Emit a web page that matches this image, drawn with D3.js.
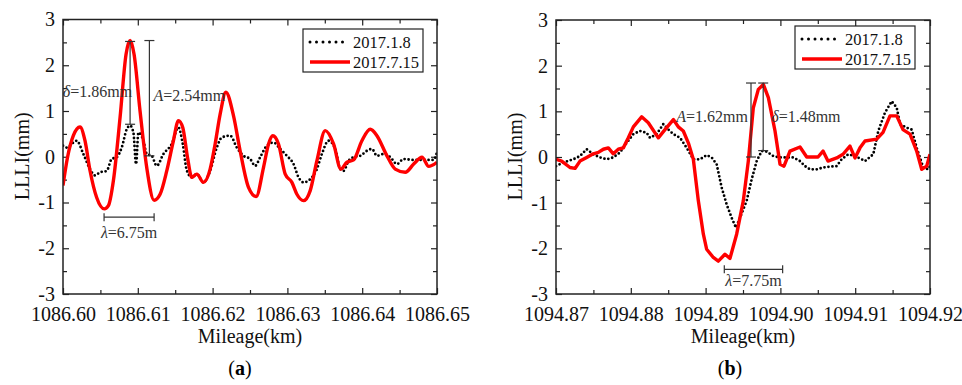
<!DOCTYPE html>
<html>
<head>
<meta charset="utf-8">
<script src="https://cdn.jsdelivr.net/npm/d3@7"></script>
<style>
  body { margin: 0; background: #fff; }
  text { font-family: "Liberation Serif", "Times New Roman", serif; }
</style>
</head>
<body>
<div id="chart"></div>
<script>
// window start (km); positions below are metres from that start
const startA = 1086.60, startB = 1094.87;
const xTicksA = ["1086.60", "1086.61", "1086.62", "1086.63", "1086.64", "1086.65"];
const xTicksB = ["1094.87", "1094.88", "1094.89", "1094.90", "1094.91", "1094.92"];
const yTicks = [-3, -2, -1, 0, 1, 2, 3];
const seriesNames = ["2017.1.8", "2017.7.15"];

// panel (a) 2017.1.8
const janA_m = [0, 0.49, 1.83, 2.72, 3.61, 4.28, 4.95, 5.84, 6.51, 7.18, 7.85, 8.52, 8.97, 9.41, 9.77, 10.08, 10.75, 11.2, 11.86, 12.53, 13.43, 14.54, 15.43, 16.01, 16.55, 17.22, 17.89, 18.78, 19.67, 20.56, 21.23, 22.35, 23.24, 24.13, 25.02, 25.69, 26.36, 27.25, 28.14, 29.04, 29.93, 30.82, 31.49, 32.16, 33.05, 33.94, 34.61, 35.5, 36.4, 37.06, 37.51, 38.18, 38.85, 39.74, 40.63, 41.3, 41.97, 42.86, 43.76, 44.65, 45.54, 46.88, 48.22, 49.55, 50];
const janA_v = [0.24, 0.2, 0.35, 0.06, -0.27, -0.41, -0.34, -0.31, -0.05, -0.01, 0.2, 0.6, 0.68, 0.53, -0.16, 0.53, 0.35, 0.06, 0.02, -0.2, 0.06, 0.28, 0.64, 0.28, -0.3, -0.45, -0.38, -0.56, -0.31, 0.2, 0.42, 0.46, 0.2, 0.02, -0.05, -0.2, -0.01, 0.24, 0.31, 0.17, 0.02, -0.16, -0.45, -0.56, -0.49, -0.27, 0.06, 0.35, 0.17, -0.27, -0.31, -0.09, -0.01, 0.02, 0.13, 0.17, 0.02, 0.06, -0.01, -0.16, -0.05, -0.07, -0.07, -0.07, 0.1];
// panel (a) 2017.7.15
const julA_m = [0, 0.62, 1.38, 2.27, 2.94, 3.61, 4.5, 5.53, 6.07, 6.74, 7.63, 8.43, 8.97, 9.5, 10.3, 11.19, 12.18, 12.98, 13.87, 14.76, 15.43, 16.01, 16.64, 17.22, 17.89, 18.78, 19.67, 20.34, 21.01, 21.77, 22.79, 23.68, 24.8, 25.82, 26.81, 27.48, 28.05, 28.81, 29.71, 30.6, 31.27, 32.16, 33.05, 33.94, 35.06, 36.17, 37.15, 37.96, 38.85, 39.96, 41.08, 41.97, 43.31, 44.42, 45.76, 46.88, 47.99, 48.89, 50];
const julA_v = [-0.63, 0, 0.46, 0.65, 0.35, -0.3, -0.89, -1.14, -1.07, -0.52, 0.86, 2.24, 2.54, 2.24, 1.0, -0.23, -0.95, -0.82, -0.31, 0.35, 0.79, 0.64, -0.01, -0.45, -0.38, -0.56, -0.27, 0.28, 0.93, 1.41, 0.9, 0.13, -0.67, -0.87, -0.23, 0.28, 0.46, 0.28, -0.38, -0.56, -0.82, -0.96, -0.74, -0.09, 0.57, 0.28, -0.27, -0.12, -0.07, 0.35, 0.6, 0.46, 0.02, -0.27, -0.34, -0.16, -0.01, -0.21, -0.12];

// panel (b) 2017.1.8
const janB_m = [0, 0.98, 2.32, 3.21, 4.1, 4.99, 5.88, 6.77, 7.66, 8.56, 9.45, 10.34, 11.23, 12.12, 12.57, 13.46, 14.35, 15.02, 15.69, 16.58, 17.47, 18.36, 19.25, 20.14, 20.81, 21.48, 22.15, 22.82, 23.48, 24.06, 24.6, 25.49, 26.16, 26.83, 27.5, 28.16, 29.06, 29.95, 30.84, 31.73, 32.62, 33.29, 33.96, 34.85, 35.74, 36.63, 37.52, 38.19, 39.08, 39.97, 40.86, 41.31, 42.42, 43.09, 43.98, 44.88, 45.55, 45.99, 46.89, 47.55, 48.22, 49.1, 49.77, 50];
const janB_v = [-0.2, -0.12, -0.05, 0.02, 0.17, 0.06, -0.01, -0.05, -0.01, 0.1, 0.31, 0.5, 0.57, 0.53, 0.42, 0.5, 0.72, 0.6, 0.5, 0.42, 0.2, -0.05, -0.05, 0.04, -0.01, -0.16, -0.67, -1.04, -1.33, -1.55, -1.33, -0.96, -0.49, -0.09, 0.13, 0.12, 0.02, -0.01, -0.01, -0.01, -0.09, -0.2, -0.27, -0.27, -0.23, -0.21, -0.2, -0.05, 0.06, 0.02, -0.05, -0.09, 0.06, 0.57, 0.97, 1.22, 1.08, 0.72, 0.64, 0.6, 0.2, -0.23, -0.27, -0.2];
// panel (b) 2017.7.15
const julB_m = [0, 0.76, 1.87, 2.54, 3.21, 4.1, 4.99, 5.66, 6.33, 7.0, 7.66, 8.33, 9.0, 9.67, 10.34, 11.45, 12.34, 13.68, 14.57, 15.69, 16.35, 17.02, 17.69, 18.36, 19.03, 19.7, 20.14, 21.03, 21.7, 22.59, 23.26, 24.15, 25.04, 25.71, 26.38, 27.05, 27.72, 28.39, 29.28, 29.95, 30.48, 31.28, 32.62, 33.52, 35.03, 35.7, 36.36, 37.53, 38.37, 39.3, 39.97, 40.64, 41.31, 42.87, 43.72, 44.65, 45.55, 46.39, 47.33, 48.22, 48.89, 49.56, 50];
const julB_v = [-0.05, -0.09, -0.23, -0.25, -0.09, -0.01, 0.07, 0.1, 0.17, 0.2, 0.07, 0.17, 0.2, 0.42, 0.66, 0.88, 0.75, 0.42, 0.6, 0.82, 0.66, 0.57, 0.31, -0.05, -0.96, -1.69, -2.02, -2.2, -2.28, -2.13, -2.22, -1.69, -0.96, -0.09, 1.08, 1.48, 1.59, 1.3, 0.57, -0.16, -0.2, 0.13, 0.22, 0, 0, 0.13, -0.09, -0.02, 0.06, 0.24, -0.02, 0.2, 0.35, 0.39, 0.54, 0.9, 0.9, 0.6, 0.5, 0.13, -0.27, -0.2, 0.06];

// annotations: [metres, top mm, bottom mm] and wavelength span [from m, to m, mm]
const annA = { delta: [8.97, 2.52, 0.71], amp: [11.55, 2.54, 0.02], lambda: [5.49, 12.18, -1.32],
               deltaText: "1.86mm", ampText: "2.54mm", lambdaText: "6.75m" };
const annB = { delta: [27.7, 1.62, 0.14], amp: [26.07, 1.62, 0.0], lambda: [22.5, 30.3, -2.46],
               deltaText: "1.48mm", ampText: "1.62mm", lambdaText: "7.75m" };

const svg = d3.select("#chart").append("svg").attr("width", 962).attr("height", 385);

function zip(ms, vs) { return ms.map((m, i) => ({ m: m, v: vs[i] })); }

function drawPanel(opt) {
  const w = opt.right - opt.left, h = opt.bottom - opt.top;
  const g = svg.append("g").attr("transform", `translate(${opt.left},${opt.top})`);

  let x = d3.scaleLinear().domain([opt.start, opt.start + 0.05]).range([0, w]);
  let y = d3.scaleLinear().domain([-3, 3]).range([h, 0]);
  const xm = m => x(opt.start + m / 1000);

  const xMajor = opt.xTicks.map(Number);
  const xMinor = xMajor.slice(0, -1).map(d => d + 0.005);
  const yMinor = yTicks.slice(0, -1).map(d => d + 0.5);

  g.append("clipPath").attr("id", "clip" + opt.id)
    .append("rect").attr("width", w).attr("height", h);

  // minor ticks
  g.append("g").attr("transform", `translate(0,${h})`)
    .call(d3.axisBottom(x).tickValues(xMinor).tickSizeInner(-4).tickSizeOuter(0).tickFormat(""));
  g.append("g")
    .call(d3.axisTop(x).tickValues(xMinor).tickSizeInner(-4).tickSizeOuter(0).tickFormat(""));
  g.append("g")
    .call(d3.axisLeft(y).tickValues(yMinor).tickSizeInner(-4).tickSizeOuter(0).tickFormat(""));
  g.append("g").attr("transform", `translate(${w},0)`)
    .call(d3.axisRight(y).tickValues(yMinor).tickSizeInner(-4).tickSizeOuter(0).tickFormat(""));

  // major ticks
  g.append("g").attr("transform", `translate(0,${h})`)
    .call(d3.axisBottom(x).tickValues(xMajor).tickSizeInner(-6).tickSizeOuter(0).tickPadding(13)
      .tickFormat((d, i) => opt.xTicks[i]));
  g.append("g")
    .call(d3.axisTop(x).tickValues(xMajor).tickSizeInner(-6).tickSizeOuter(0).tickFormat(""));
  g.append("g")
    .call(d3.axisLeft(y).tickValues(yTicks).tickSizeInner(-6).tickSizeOuter(0).tickPadding(8)
      .tickFormat(d => String(d)));
  g.append("g").attr("transform", `translate(${w},0)`)
    .call(d3.axisRight(y).tickValues(yTicks).tickSizeInner(-6).tickSizeOuter(0).tickFormat(""));

  g.selectAll(".domain").remove();
  g.selectAll(".tick line").attr("stroke", "#222").attr("stroke-width", 1.2);
  g.selectAll(".tick text").style("font-size", "20px").attr("fill", "#111")
    .style("font-family", '"Liberation Serif","Times New Roman",serif');

  let line = d3.line().x(d => xm(d.m)).y(d => y(d.v)).curve(opt.curve);

  const plot = g.append("g").attr("clip-path", `url(#clip${opt.id})`);
  plot.append("path").datum(zip(opt.janM, opt.janV))
    .attr("d", line).attr("fill", "none").attr("stroke", "#000")
    .attr("stroke-width", 2.8).attr("stroke-linecap", "round").attr("stroke-dasharray", "0,4");
  plot.append("path").datum(zip(opt.julM, opt.julV))
    .attr("d", line).attr("fill", "none").attr("stroke", "#ff0000")
    .attr("stroke-width", 3.4).attr("stroke-linejoin", "round");

  // annotations
  const ann = opt.ann, annColor = "#333";
  const ag = g.append("g").attr("stroke", annColor).attr("stroke-width", 1.2);
  [ann.delta, ann.amp].forEach(a => {
    ag.append("line").attr("x1", xm(a[0])).attr("x2", xm(a[0])).attr("y1", y(a[1])).attr("y2", y(a[2]));
    ag.append("line").attr("x1", xm(a[0]) - 5).attr("x2", xm(a[0]) + 5).attr("y1", y(a[1])).attr("y2", y(a[1]));
    ag.append("line").attr("x1", xm(a[0]) - 5).attr("x2", xm(a[0]) + 5).attr("y1", y(a[2])).attr("y2", y(a[2]));
  });
  const l = ann.lambda;
  ag.append("line").attr("x1", xm(l[0])).attr("x2", xm(l[1])).attr("y1", y(l[2])).attr("y2", y(l[2]));
  ag.append("line").attr("x1", xm(l[0])).attr("x2", xm(l[0])).attr("y1", y(l[2]) - 4).attr("y2", y(l[2]) + 4);
  ag.append("line").attr("x1", xm(l[1])).attr("x2", xm(l[1])).attr("y1", y(l[2]) - 4).attr("y2", y(l[2]) + 4);

  function label(sym, val, px, py, anchor) {
    const t = g.append("text").attr("x", px).attr("y", py).attr("text-anchor", anchor)
      .style("font-size", "16px").attr("fill", annColor);
    t.append("tspan").style("font-style", "italic").text(sym);
    t.append("tspan").text("=" + val);
  }
  opt.labels(label, xm, y, ann);

  // frame
  g.append("rect").attr("width", w).attr("height", h)
    .attr("fill", "none").attr("stroke", "#222").attr("stroke-width", 1.5);

  // legend
  const lg = g.append("g").attr("transform", `translate(${w - opt.legend[0]},${opt.legend[1]})`);
  lg.append("rect").attr("width", 120).attr("height", 43).attr("fill", "#fff")
    .attr("stroke", "#222").attr("stroke-width", 1.2);
  lg.append("line").attr("x1", 7).attr("x2", 44).attr("y1", 13).attr("y2", 13)
    .attr("stroke", "#000").attr("stroke-width", 3).attr("stroke-linecap", "round").attr("stroke-dasharray", "0,6.5");
  lg.append("line").attr("x1", 7).attr("x2", 47).attr("y1", 33).attr("y2", 33)
    .attr("stroke", "#ff0000").attr("stroke-width", 3.4);
  lg.selectAll("text.leg").data(seriesNames).enter().append("text")
    .attr("x", 50).attr("y", (d, i) => 19 + i * 20)
    .style("font-size", "16.5px").attr("fill", "#111").text(d => d);

  // axis titles
  g.append("text").attr("x", w / 2).attr("y", h + 49).attr("text-anchor", "middle")
    .style("font-size", "20px").attr("fill", "#111").text("Mileage(km)");
  g.append("text").attr("transform", `translate(${-34},${h / 2 - 0.5}) rotate(-90)`)
    .attr("text-anchor", "middle").style("font-size", "20px").attr("fill", "#111").text("LLLI(mm)");

  const cap = g.append("text").attr("x", w / 2 + opt.capDx).attr("y", h + 81)
    .attr("text-anchor", "middle").style("font-size", "20px").attr("fill", "#000");
  cap.append("tspan").text("(");
  cap.append("tspan").style("font-weight", "bold").text(opt.letter);
  cap.append("tspan").text(")");
}

drawPanel({
  id: "a", left: 63, right: 437, top: 19.5, bottom: 294, start: startA, xTicks: xTicksA,
  janM: janA_m, janV: janA_v, julM: julA_m, julV: julA_v, ann: annA, curve: d3.curveMonotoneX,
  legend: [134, 9.5], letter: "a", capDx: -10,
  labels: (label, xm, y, ann) => {
    label("δ", ann.deltaText, xm(ann.delta[0]) + 2, y(1.3), "end");
    label("A", ann.ampText, xm(ann.amp[0]) + 4, y(1.22), "start");
    label("λ", ann.lambdaText, (xm(ann.lambda[0]) + xm(ann.lambda[1])) / 2, y(-1.78), "middle");
  }
});

drawPanel({
  id: "b", left: 556, right: 930, top: 20, bottom: 294, start: startB, xTicks: xTicksB,
  janM: janB_m, janV: janB_v, julM: julB_m, julV: julB_v, ann: annB, curve: d3.curveLinear,
  legend: [135, 6], letter: "b", capDx: -13,
  labels: (label, xm, y, ann) => {
    label("A", ann.ampText, xm(ann.amp[0]) - 3, y(0.77), "end");
    label("δ", ann.deltaText, xm(ann.delta[0]) + 8, y(0.77), "start");
    label("λ", ann.lambdaText, (xm(ann.lambda[0]) + xm(ann.lambda[1])) / 2, y(-2.82), "middle");
  }
});
</script>
</body>
</html>
